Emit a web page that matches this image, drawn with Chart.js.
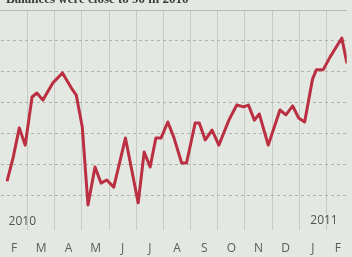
<!DOCTYPE html>
<html>
<head>
<meta charset="utf-8">
<script src="https://cdn.jsdelivr.net/npm/chart.js@4/dist/chart.umd.min.js"></script>
<style>
  html, body { margin: 0; padding: 0; background: #e3e8e2; }
  #wrap { width: 352px; height: 257px; position: relative; }
</style>
</head>
<body>
<div id="wrap"><canvas id="c" width="352" height="257"></canvas></div>
<script>
// ---- data (x in months since 1 Feb 2010, y in chart units) ----
const titleText = 'Balances were close to 90 in 2010';
const monthLabels = ['F','M','A','M','J','J','A','S','O','N','D','J','F'];
const yearLabels = ['2010', '2011'];
const weekPos = [0.25,0.47,0.69,0.91,1.16,1.34,1.56,1.92,2.28,2.61,2.79,3.01,3.22,3.48,3.70,3.91,4.17,4.60,5.07,5.29,5.51,5.72,5.91,6.16,6.38,6.67,6.85,7.17,7.32,7.54,7.79,8.04,8.41,8.70,8.95,9.13,9.35,9.53,9.86,10.29,10.51,10.76,10.98,11.20,11.49,11.63,11.88,12.14,12.57,12.75];
const values = [1.49,2.24,3.18,2.62,4.18,4.31,4.08,4.63,4.96,4.47,4.24,3.21,0.68,1.91,1.39,1.49,1.26,2.85,0.75,2.40,1.91,2.85,2.85,3.37,2.88,2.04,2.04,3.34,3.34,2.79,3.11,2.62,3.43,3.92,3.86,3.92,3.43,3.63,2.62,3.76,3.60,3.89,3.50,3.37,4.76,5.06,5.06,5.48,6.09,5.31];
const gridLevels = [1,2,3,4,5,6];
const monthBounds = [1,2,3,4,5,6,7,8,9,10,11,12];

const points = weekPos.map((x, i) => ({ x: x, y: values[i] }));

const annotations = {
  id: 'annotations',
  afterDraw(chart) {
    const ctx = chart.ctx;
    const a = chart.chartArea;
    ctx.save();
    // cropped title at very top
    ctx.fillStyle = '#3a3d3a';
    ctx.font = 'bold 13px "Liberation Serif", serif';
    ctx.textBaseline = 'alphabetic';
    ctx.textAlign = 'left';
    ctx.fillText(titleText, 6, 3);
    // year labels
    ctx.fillStyle = '#505350';
    ctx.font = '12px "Open Sans", sans-serif';
    ctx.textBaseline = 'middle';
    ctx.textAlign = 'left';
    ctx.fillText(yearLabels[0], a.left + 8, a.bottom - 8);
    ctx.textAlign = 'right';
    ctx.fillText(yearLabels[1], a.right - 9, a.bottom - 9);
    ctx.restore();
  }
};

new Chart(document.getElementById('c'), {
  type: 'line',
  data: {
    datasets: [{
      data: points,
      xAxisID: 'x',
      yAxisID: 'y',
      borderColor: '#bb2f42',
      borderWidth: 3,
      pointRadius: 0,
      tension: 0,
      fill: false,
      borderJoinStyle: 'round',
      borderCapStyle: 'round'
    }]
  },
  options: {
    responsive: false,
    animation: false,
    layout: { padding: { top: 10, bottom: 0, left: 0, right: 0 } },
    plugins: { legend: { display: false }, tooltip: { enabled: false } },
    scales: {
      xg: {
        type: 'linear', position: 'top', min: 0, max: 12.75,
        afterBuildTicks: s => { s.ticks = monthBounds.map(v => ({ value: v })); },
        ticks: { display: false },
        grid: { color: '#c6cbc5', lineWidth: 1, drawTicks: false },
        border: { display: true, color: '#b4b9b3', width: 1 }
      },
      x: {
        type: 'linear', position: 'bottom', min: 0, max: 12.75,
        afterBuildTicks: s => { s.ticks = monthLabels.map((m, i) => ({ value: Math.min(i + 0.5, 12.42) })); },
        afterFit: s => { s.height = 27; },
        ticks: {
          autoSkip: false, maxRotation: 0, padding: 11,
          color: '#5a5d5a',
          font: { family: '"Open Sans", sans-serif', size: 12 },
          callback: (v, i) => monthLabels[i]
        },
        grid: { display: false, drawTicks: false },
        border: { display: false }
      },
      y: {
        type: 'linear', min: -0.13, max: 7,
        afterBuildTicks: s => { s.ticks = gridLevels.map(v => ({ value: v })); },
        ticks: { display: false },
        grid: { color: '#aeb3ad', lineWidth: 1, drawTicks: false },
        border: { display: false, dash: [3, 3] }
      }
    }
  },
  plugins: [annotations]
});
</script>
</body>
</html>
